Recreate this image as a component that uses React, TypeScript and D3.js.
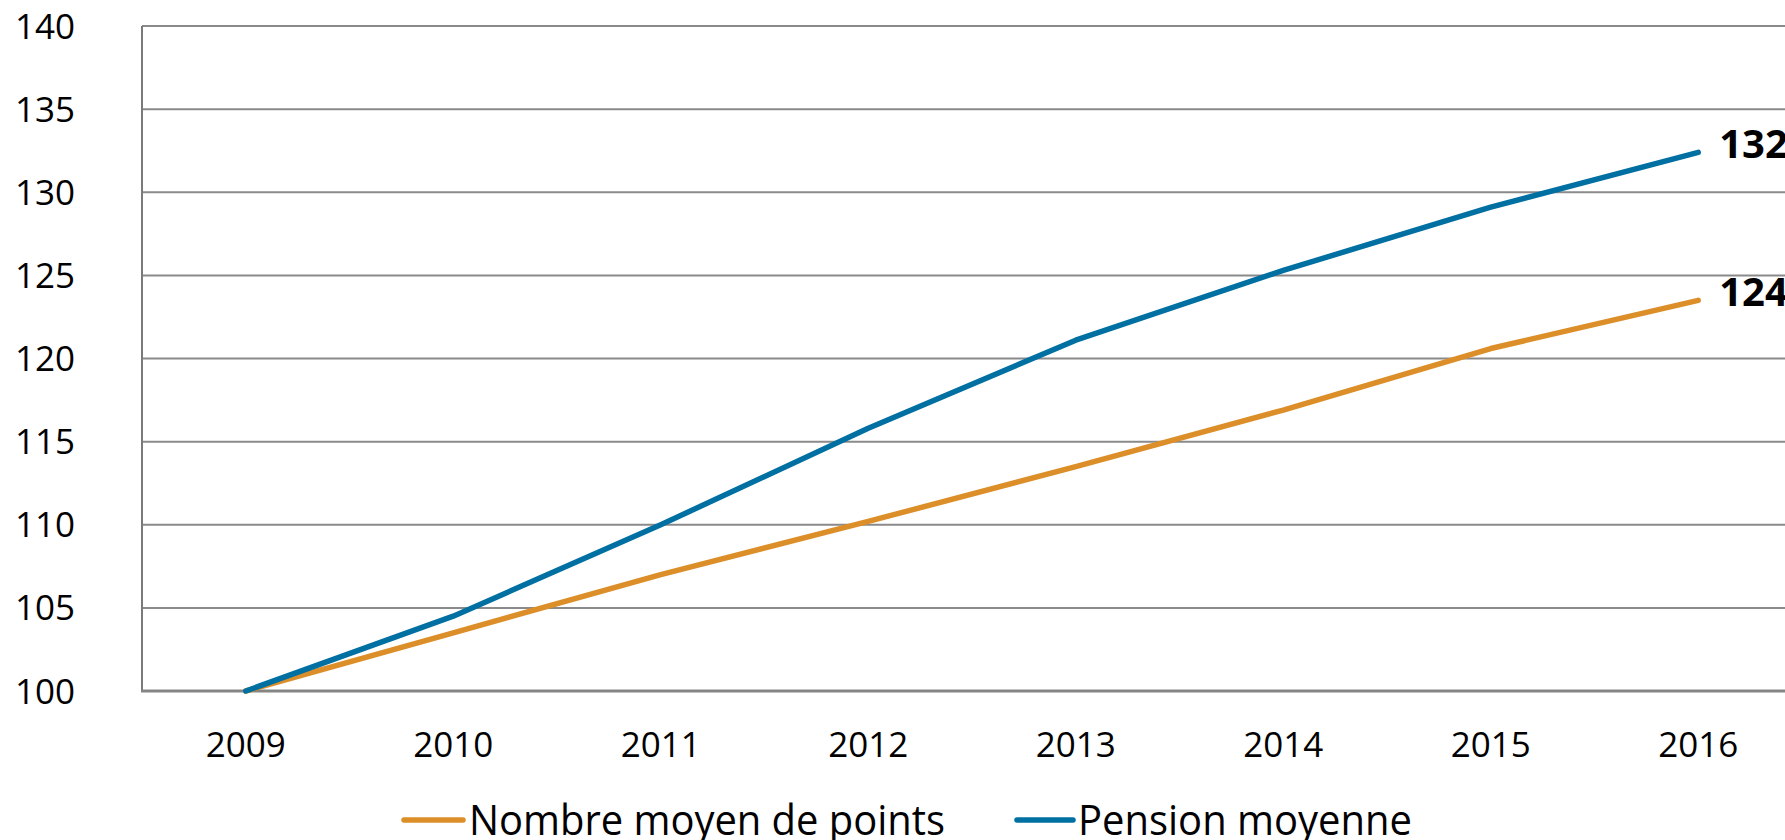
import { useEffect, useRef } from 'react';
import * as d3 from 'd3';

const years = ['2009', '2010', '2011', '2012', '2013', '2014', '2015', '2016'];
const points = [100, 103.5, 107.0, 110.2, 113.5, 116.9, 120.6, 123.5];
const pension = [100, 104.5, 110.0, 115.8, 121.1, 125.3, 129.1, 132.4];
const yTicks = [100, 105, 110, 115, 120, 125, 130, 135, 140];
const seriesNames = ['Nombre moyen de points', 'Pension moyenne'];
const endLabels = ['124', '132'];

const W = 1785;
const H = 840;
const FONT = "'Open Sans', 'Noto Sans', sans-serif";

const App = () => {
  const svgRef = useRef<SVGSVGElement>(null);

  useEffect(() => {
    if (!svgRef.current) return;
    const svg = d3.select(svgRef.current);
    svg.selectAll('*').remove();

    const left = 142;
    const top = 26;
    const bottom = 691;
    const band = 207.5;

    const x = d3.scalePoint<string>()
      .domain(years)
      .range([left + band / 2, left + band * 7.5]);
    const y = d3.scaleLinear().domain([100, 140]).range([bottom, top]);

    // horizontal gridlines
    svg.append('g')
      .selectAll('line')
      .data(yTicks.filter(t => t > 100))
      .enter()
      .append('line')
      .attr('x1', left)
      .attr('x2', W)
      .attr('y1', d => y(d))
      .attr('y2', d => y(d))
      .attr('stroke', '#8a8a8a')
      .attr('stroke-width', 2);

    // y axis line
    svg.append('line')
      .attr('x1', left).attr('x2', left)
      .attr('y1', top).attr('y2', bottom)
      .attr('stroke', '#7a7a7a')
      .attr('stroke-width', 2);

    // x axis line
    svg.append('line')
      .attr('x1', left - 1).attr('x2', W)
      .attr('y1', bottom).attr('y2', bottom)
      .attr('stroke', '#858585')
      .attr('stroke-width', 3);

    // y tick labels
    svg.append('g')
      .selectAll('text')
      .data(yTicks)
      .enter()
      .append('text')
      .attr('x', 75)
      .attr('y', d => y(d) + 12.5)
      .attr('text-anchor', 'end')
      .attr('font-family', FONT)
      .attr('font-size', 35)
      .attr('fill', '#000')
      .text(d => d);

    // x tick labels
    svg.append('g')
      .selectAll('text')
      .data(years)
      .enter()
      .append('text')
      .attr('x', d => x(d)!)
      .attr('y', 757)
      .attr('text-anchor', 'middle')
      .attr('font-family', FONT)
      .attr('font-size', 35)
      .attr('fill', '#000')
      .text(d => d);

    const series = [
      { name: seriesNames[0], values: points, color: '#dc8e29', label: endLabels[0] },
      { name: seriesNames[1], values: pension, color: '#006fa1', label: endLabels[1] },
    ];

    const line = d3.line<number>()
      .x((_, i) => x(years[i])!)
      .y(d => y(d));

    series.forEach(s => {
      svg.append('path')
        .datum(s.values)
        .attr('d', line)
        .attr('fill', 'none')
        .attr('stroke', s.color)
        .attr('stroke-width', 5.5)
        .attr('stroke-linecap', 'round')
        .attr('stroke-linejoin', 'round');

      const last = s.values[s.values.length - 1];
      svg.append('text')
        .attr('x', x(years[years.length - 1])! + 21)
        .attr('y', y(last) + 6)
        .attr('font-family', FONT)
        .attr('font-weight', 'bold')
        .attr('font-size', 40)
        .attr('fill', '#000')
        .text(s.label);
    });

    // legend
    const legend = [
      { x0: 404, x1: 463, tx: 469, tl: 476 },
      { x0: 1017, x1: 1073, tx: 1078, tl: 334 },
    ];
    series.forEach((s, i) => {
      const l = legend[i];
      svg.append('line')
        .attr('x1', l.x0).attr('x2', l.x1)
        .attr('y1', 820).attr('y2', 820)
        .attr('stroke', s.color)
        .attr('stroke-width', 5.5)
        .attr('stroke-linecap', 'round');
      svg.append('text')
        .attr('x', l.tx)
        .attr('y', 835)
        .attr('font-family', FONT)
        .attr('font-size', 42)
        .attr('textLength', l.tl)
        .attr('lengthAdjust', 'spacingAndGlyphs')
        .attr('fill', '#000')
        .text(s.name);
    });
  }, []);

  return (
    <div style={{ position: 'absolute', left: 0, top: 0, width: W, height: H, background: '#fff' }}>
      <svg ref={svgRef} width={W} height={H} style={{ display: 'block' }}></svg>
    </div>
  );
};

export default App;
